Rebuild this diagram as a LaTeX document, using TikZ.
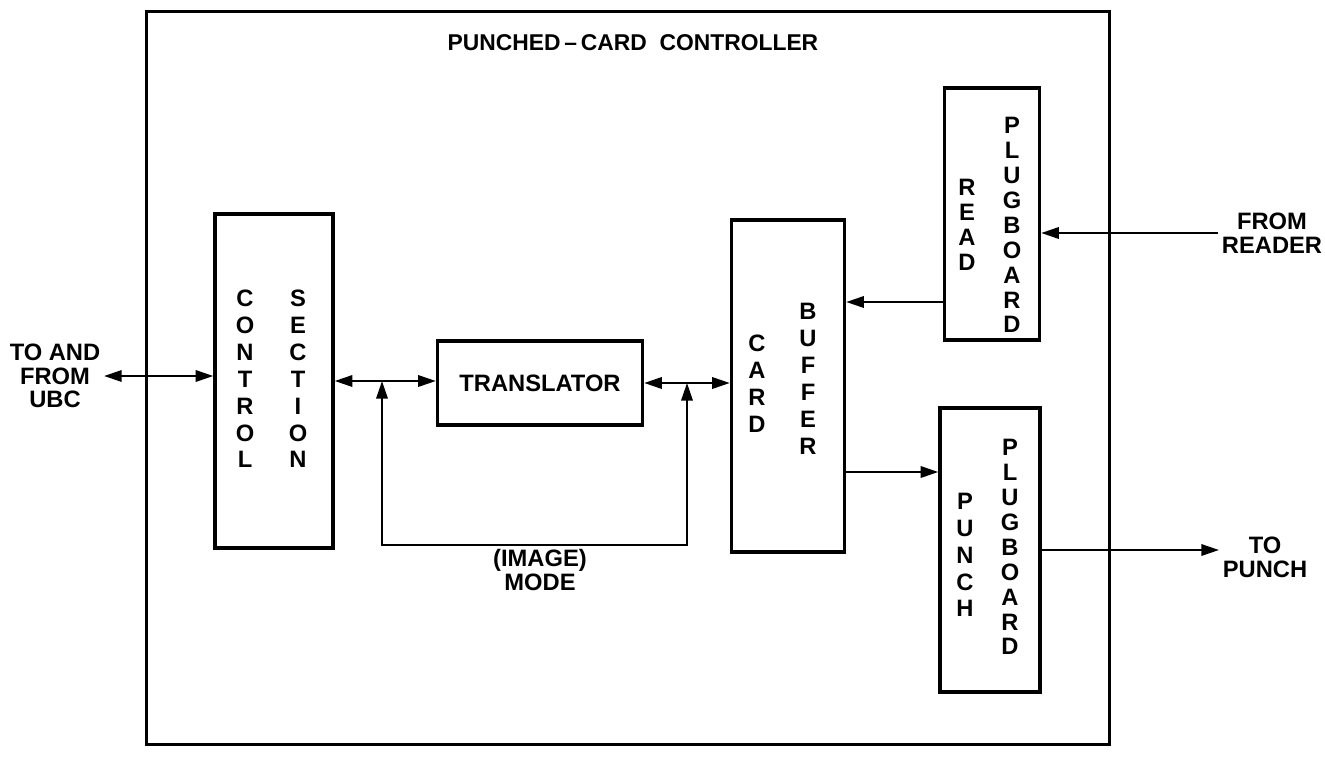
\documentclass[tikz,border=0pt]{standalone}
\usepackage{fontspec}
\setmainfont{Liberation Sans}
\usetikzlibrary{arrows.meta,calc,positioning}
\tikzset{
  blockbox/.style={draw,line width=2pt,inner sep=0pt},
  vletters/.style={align=center,inner sep=0pt,font=\bfseries\fontsize{13.5}{15.3}\selectfont},
  plugletters/.style={align=center,inner sep=0pt,font=\bfseries\fontsize{13.5}{14.2}\selectfont},
  sidetext/.style={align=center,inner sep=2pt,font=\bfseries\fontsize{13.5}{13.5}\selectfont},
  sigarr/.style={-{Triangle[length=10pt,width=6.5pt]},line width=1.1pt},
  dblarr/.style={{Triangle[length=10pt,width=6.5pt]}-{Triangle[length=10pt,width=6.5pt]},line width=1.1pt}
}
\begin{document}
\begin{tikzpicture}[x=0.02cm,y=-0.02cm]
  \useasboundingbox (0,0) rectangle (1325,757);
  % outer frame
  \node[blockbox,line width=1.6pt,minimum width=19.26cm,minimum height=14.66cm] (ctl) at (628,378) {};
  \node[font=\bfseries\fontsize{13}{14}\selectfont] (title) at (633,43) {PUNCHED\,--\,CARD\ \ CONTROLLER};

  % blocks
  \node[blockbox,minimum width=2.36cm,minimum height=6.68cm] (ctrl) at (274,381) {};
  \node[blockbox,minimum width=4.1cm,minimum height=1.68cm,font=\bfseries\fontsize{13.5}{14}\selectfont] (trans) at (540,383) {TRANSLATOR};
  \node[blockbox,minimum width=2.26cm,minimum height=6.64cm] (buf) at (788,386) {};
  \node[blockbox,minimum width=1.9cm,minimum height=5.04cm] (read) at (992,214) {};
  \node[blockbox,minimum width=2.0cm,minimum height=5.68cm] (pun) at (990,550) {};

  % vertical lettering
  \node[vletters] (ctrlA) at (245,379) {C\\O\\N\\T\\R\\O\\L};
  \node[vletters] (ctrlB) at (298,379) {S\\E\\C\\T\\I\\O\\N};
  \node[vletters] (bufA) at (757,384) {C\\A\\R\\D};
  \node[vletters] (bufB) at (808,379) {B\\U\\F\\F\\E\\R};
  \node[plugletters] (readA) at (967,225) {R\\E\\A\\D};
  \node[plugletters] (readB) at (1012,225) {P\\L\\U\\G\\B\\O\\A\\R\\D};
  \node[vletters] (punA) at (965,555) {P\\U\\N\\C\\H};
  \node[plugletters] (punB) at (1010,547) {P\\L\\U\\G\\B\\O\\A\\R\\D};

  % outside texts
  \node[sidetext] (ubc) at (55,376) {TO AND\\FROM\\UBC};
  \node[sidetext] (rdr) at (1272,233) {FROM\\READER};
  \node[sidetext] (topun) at (1265,557) {TO\\PUNCH};
  \node[sidetext] (mode) at (540,570) {(IMAGE)\\MODE};

  % connections
  \draw[dblarr] (ubc.east) -- (ubc.east -| ctrl.west);
  \draw[dblarr] (ctrl.east) -- (ctrl.east -| trans.west);
  \draw[dblarr] (trans.east) -- (trans.east -| buf.west);
  \coordinate (lpL) at (382,545);
  \coordinate (lpR) at (687,545);
  \draw[dblarr] (lpL |- ctrl.east) -- (lpL) -- (lpR) -- (lpR |- trans.east);
  \coordinate (rdout) at ([shift={(0,88)}]read.west);
  \draw[sigarr] (rdout) -- (rdout -| buf.east);
  \draw[sigarr] (rdr.west) -- (rdr.west -| read.east);
  \coordinate (bufout) at ([shift={(0,86)}]buf.east);
  \draw[sigarr] (bufout) -- (bufout -| pun.west);
  \draw[sigarr] (pun.east) -- (pun.east -| topun.west);
\end{tikzpicture}
\end{document}
